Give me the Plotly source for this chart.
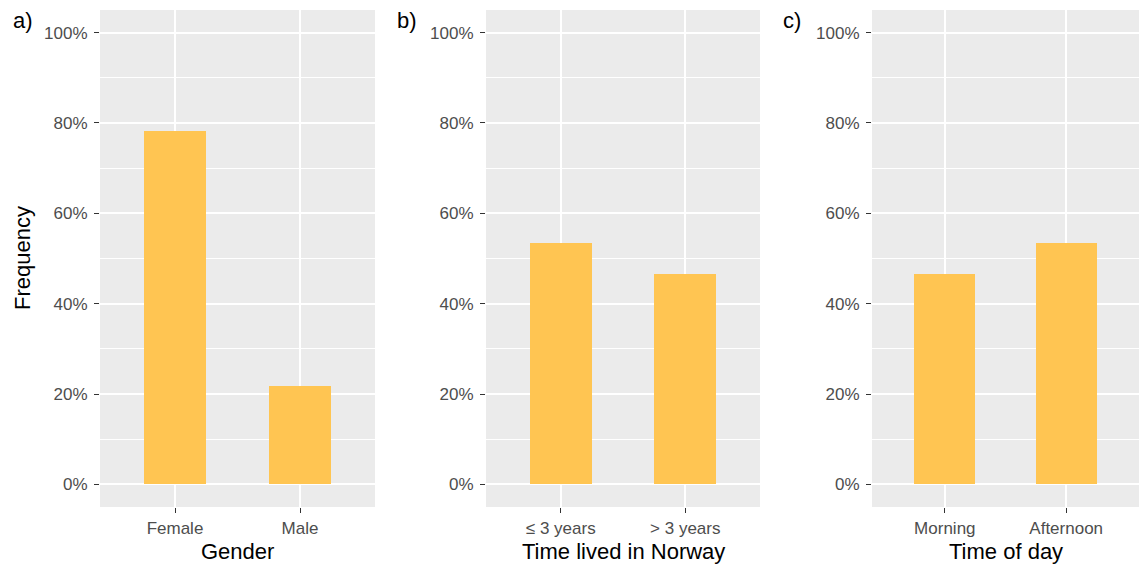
import plotly.graph_objects as go

gender_cats = ["Female", "Male"]
gender_vals = [0.7826, 0.2174]
time_cats = ["≤ 3 years", "> 3 years"]
time_vals = [0.5333, 0.4667]
day_cats = ["Morning", "Afternoon"]
day_vals = [0.4667, 0.5333]

y_ticks = [0, 0.2, 0.4, 0.6, 0.8, 1.0]
y_ticktext = ["0%", "20%", "40%", "60%", "80%", "100%"]
y_minor = [0.1, 0.3, 0.5, 0.7, 0.9]

panels = [
    ("a)", "Gender", gender_cats, gender_vals),
    ("b)", "Time lived in Norway", time_cats, time_vals),
    ("c)", "Time of day", day_cats, day_vals),
]

W, H = 1140, 566
x_doms_px = [(100, 375), (486, 760), (872, 1139)]
y_top, y_bot = 10, 507
BAR = "#FFC552"
FONT = "Liberation Sans, Arial, sans-serif"

fig = go.Figure()
annotations = []
for i, (lab, title, cats, vals) in enumerate(panels):
    n = "" if i == 0 else str(i + 1)
    fig.add_trace(go.Bar(x=cats, y=vals, width=0.5, marker=dict(color=BAR, line=dict(width=0)),
                         xaxis="x" + n, yaxis="y" + n, showlegend=False))
    x0, x1 = x_doms_px[i]
    fig.update_layout(**{
        "xaxis" + n: dict(
            domain=[x0 / W, x1 / W], anchor="y" + n, range=[-0.6, 1.6], type="category",
            showgrid=True, gridcolor="white", gridwidth=1.5, zeroline=False,
            ticks="outside", ticklen=5, tickcolor="#333333", tickwidth=1.2,
            ticklabelstandoff=1,
            tickfont=dict(family=FONT, size=17, color="#4D4D4D"), showline=False,
        ),
        "yaxis" + n: dict(
            domain=[1 - y_bot / H, 1 - y_top / H], anchor="x" + n, range=[-0.05, 1.05],
            tickvals=y_ticks, ticktext=y_ticktext,
            showgrid=True, gridcolor="white", gridwidth=1.5, zeroline=False,
            ticks="outside", ticklen=5, tickcolor="#333333", tickwidth=1.2,
            ticklabelstandoff=3,
            tickfont=dict(family=FONT, size=17, color="#4D4D4D"), showline=False,
            minor=dict(tickvals=y_minor, showgrid=True, gridcolor="white", gridwidth=0.8, ticks=""),
        ),
    })
    annotations.append(dict(text=title, x=(x0 + x1) / 2 / W, y=1 - 551 / H, xref="paper", yref="paper",
                            showarrow=False, xanchor="center", yanchor="middle",
                            font=dict(family=FONT, size=22, color="black")))
    lab_x = [11, 395, 781][i]
    annotations.append(dict(text=lab, x=lab_x / W, y=1 - 20 / H, xref="paper", yref="paper",
                            showarrow=False, xanchor="left", yanchor="middle",
                            font=dict(family=FONT, size=22, color="black")))

annotations.append(dict(text="Frequency", x=22 / W, y=1 - 258 / H, xref="paper", yref="paper",
                        showarrow=False, xanchor="center", yanchor="middle", textangle=-90,
                        font=dict(family=FONT, size=22, color="black")))

fig.update_layout(
    width=W, height=H, margin=dict(l=0, r=0, t=0, b=0),
    paper_bgcolor="white", plot_bgcolor="#EBEBEB",
    annotations=annotations, bargap=0,
)

fig.write_html("out.html", config={"displayModeBar": False},
               post_script="document.body.style.margin='0';document.body.style.overflow='hidden';")
